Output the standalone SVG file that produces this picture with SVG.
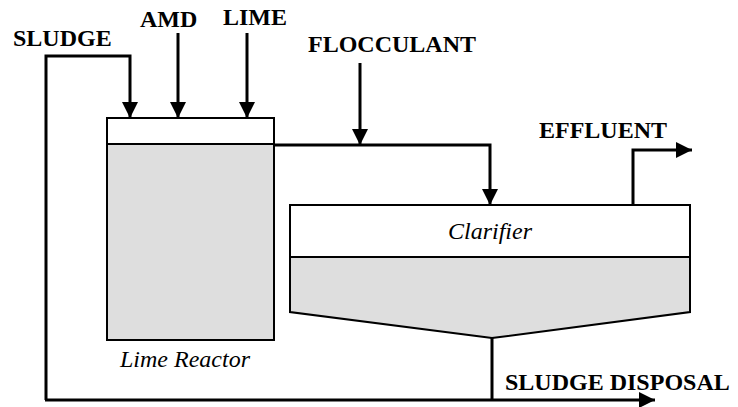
<svg xmlns="http://www.w3.org/2000/svg" width="738" height="407" viewBox="0 0 738 407">
<defs>
<marker id="ah" markerUnits="userSpaceOnUse" markerWidth="16" markerHeight="16" refX="14" refY="7" orient="auto" viewBox="0 0 14 14">
<path d="M0,0 L14,7 L0,14 z" fill="#000"/>
</marker>
</defs>
<rect width="738" height="407" fill="#fff"/>
<g id="reactor">
<rect x="107" y="118" width="167" height="222" fill="#dedede" stroke="#000" stroke-width="2"/>
<rect x="107" y="118" width="167" height="26" fill="#fff" stroke="#000" stroke-width="2"/>
<text x="185" y="367" text-anchor="middle" font-family="Liberation Serif" font-style="italic" font-size="24">Lime Reactor</text>
</g>
<g id="clarifier">
<polygon points="290,205 690,205 690,312 492,338 290,312" fill="#dedede" stroke="#000" stroke-width="2"/>
<rect x="290" y="205" width="400" height="52" fill="#fff" stroke="#000" stroke-width="2"/>
<text x="490" y="239" text-anchor="middle" font-family="Liberation Serif" font-style="italic" font-size="24">Clarifier</text>
</g>
<g id="labels">
<text x="13" y="46" font-family="Liberation Serif" font-weight="bold" font-size="24">SLUDGE</text>
<text x="140" y="27" font-family="Liberation Serif" font-weight="bold" font-size="24">AMD</text>
<text x="223" y="25" font-family="Liberation Serif" font-weight="bold" font-size="24">LIME</text>
<text x="308" y="52" font-family="Liberation Serif" font-weight="bold" font-size="24">FLOCCULANT</text>
<text x="539" y="138" font-family="Liberation Serif" font-weight="bold" font-size="24">EFFLUENT</text>
<text x="505" y="390" font-family="Liberation Serif" font-weight="bold" font-size="24">SLUDGE DISPOSAL</text>
</g>
<g id="connectors" fill="none" stroke="#000" stroke-width="3">
<path d="M46,400 V56 H130 V118" marker-end="url(#ah)"/>
<path d="M178,33 V118" marker-end="url(#ah)"/>
<path d="M247,33 V118" marker-end="url(#ah)"/>
<path d="M360,63 V145" marker-end="url(#ah)"/>
<path d="M274,145 H490 V205" marker-end="url(#ah)"/>
<path d="M633,205 V150 H692" marker-end="url(#ah)"/>
<path d="M492,338 V400"/>
<path d="M45,400 H655" marker-end="url(#ah)"/>
</g>
</svg>
